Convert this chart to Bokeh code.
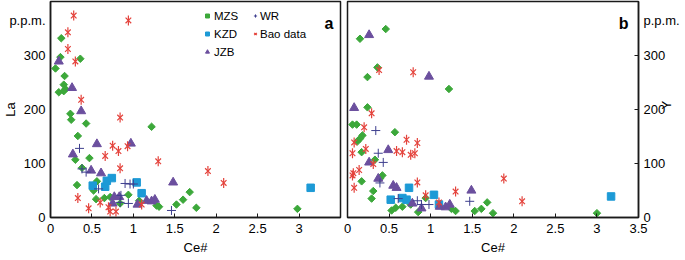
import math
from bokeh.plotting import figure
from bokeh.layouts import row
from bokeh.models import Range1d, FixedTicker, Label, Legend, LegendItem
from bokeh.embed import file_html
from bokeh.resources import INLINE

FONT = "Liberation Sans"

# ---------------- data: panel a (Ce# vs La, p.p.m.) ----------------
a_mzs_ce = [0.13, 0.12, 0.36, 0.06, 0.17, 0.16, 0.18, 0.10, 0.16, 0.24, 0.25, 0.43, 1.22, 0.33, 0.30, 0.47, 0.38,
            0.32, 0.56, 0.52, 0.55, 0.65, 0.72, 0.94, 1.07, 0.84, 1.28, 1.31, 1.52, 1.60, 1.68, 1.76, 2.98]
a_mzs_la = [332, 297, 294, 276, 262, 246, 238, 232, 234, 192, 181, 174, 168, 151, 107, 110, 92,
            60, 67, 50, 34, 36, 38, 42, 31, 26, 22, 20, 24, 33, 47, 18, 16]
a_kzd_ce = [0.51, 0.66, 0.68, 0.74, 1.04, 1.10, 3.14]
a_kzd_la = [59, 57, 68, 73, 65, 45, 55]
a_jzb_ce = [0.10, 0.26, 0.37, 0.56, 0.97, 0.27, 0.49, 0.61, 0.77, 0.83, 0.75, 1.05, 1.16, 1.22, 1.26, 1.48]
a_jzb_la = [289, 240, 197, 136, 137, 117, 87, 82, 38, 38, 26, 24, 31, 30, 33, 65]
a_wr_ce = [0.35, 0.38, 0.43, 0.58, 0.90, 0.96, 1.00, 0.85, 0.84, 0.94, 1.46]
a_wr_la = [128, 90, 84, 53, 63, 62, 62, 41, 28, 26, 13]
a_bao_ce = [0.28, 0.94, 0.21, 0.21, 0.30, 0.37, 0.84, 0.75, 0.93, 0.82, 0.66, 0.84, 0.33, 0.60, 0.70, 0.46,
            0.72, 0.79, 1.10, 1.30, 1.90, 2.09]
a_bao_la = [374, 365, 343, 312, 289, 218, 185, 133, 132, 123, 114, 91, 36, 28, 19, 17,
            11, 11, 24, 104, 86, 64]

# ---------------- data: panel b (Ce# vs Y, p.p.m.) ----------------
b_mzs_ce = [0.46, 0.15, 0.36, 0.24, 1.22, 0.24, 0.06, 0.11, 0.57, 0.18, 0.15, 0.12, 0.17, 0.33, 0.42, 0.39,
            0.17, 0.31, 0.29, 0.94, 0.53, 0.58, 0.66, 0.76, 0.85, 1.25, 1.30, 1.53, 1.61, 1.68, 1.75, 3.00]
b_mzs_y = [349, 331, 278, 260, 238, 204, 172, 172, 158, 152, 146, 141, 121, 107, 78, 72,
           67, 49, 35, 36, 13, 18, 20, 24, 10, 16, 12, 12, 16, 28, 8, 8]
b_kzd_ce = [0.74, 0.52, 0.66, 0.71, 1.04, 1.10, 3.17]
b_kzd_y = [55, 33, 36, 33, 42, 24, 39]
b_jzb_ce = [0.26, 0.98, 0.08, 0.49, 0.26, 0.37, 0.55, 0.59, 0.78, 0.89, 1.11, 1.18, 1.23, 1.49]
b_jzb_y = [338, 261, 203, 125, 102, 72, 59, 55, 26, 17, 20, 19, 24, 50]
b_wr_ce = [0.34, 0.37, 0.43, 0.39, 0.61, 0.84, 0.89, 0.98, 1.47]
b_wr_y = [161, 119, 102, 64, 35, 31, 24, 24, 30]
b_bao_ce = [0.38, 0.79, 0.29, 0.20, 0.08, 0.71, 0.84, 0.22, 0.06, 0.59, 0.66, 0.76, 0.81, 0.31, 0.07, 0.14,
            0.06, 0.08, 0.84, 0.94, 1.10, 1.30, 1.88, 2.10]
b_bao_y = [273, 269, 193, 167, 139, 144, 138, 127, 119, 123, 121, 116, 119, 99, 82, 88,
           78, 55, 65, 41, 28, 48, 72, 30]

x_ticks_a = [0, 0.5, 1, 1.5, 2, 2.5, 3]
x_ticks_b = [0, 0.5, 1, 1.5, 2, 2.5, 3, 3.5]
y_ticks = [0, 100, 200, 300]
unit_pos = 365            # where the "p.p.m." unit sits on the value axis
unit_text = "p.p.m."

GREEN = "#3ca83a"
BLUE = "#1d9ad6"
PURPLE = "#6b4f9e"
NAVY = "#3e3f8e"
RED = "#e4433c"
INK = "#1a1a1a"


def base_axis_style(ax):
    ax.axis_line_color = INK
    ax.axis_line_width = 1.5
    ax.major_tick_line_color = INK
    ax.minor_tick_line_color = None
    ax.major_label_text_font = FONT
    ax.major_label_text_font_size = "13px"
    ax.major_label_text_color = "black"
    ax.axis_label_text_font = FONT
    ax.axis_label_text_font_size = "13px"
    ax.axis_label_text_font_style = "normal"
    ax.axis_label_text_color = "black"


def style(p, xticks, ylabel, y_standoff, y_minor_ticks):
    p.outline_line_color = INK
    p.outline_line_width = 1.5
    p.xgrid.visible = False
    p.ygrid.visible = False
    for ax in p.axis:
        base_axis_style(ax)
    xa = p.xaxis[0]
    xa.ticker = FixedTicker(ticks=xticks)
    xa.major_tick_in = 4
    xa.major_tick_out = 0
    xa.major_label_standoff = 6
    xa.axis_label = "Ce#"
    xa.axis_label_standoff = 4

    ya = p.yaxis[0]
    ya.ticker = FixedTicker(ticks=y_ticks + [unit_pos], minor_ticks=y_minor_ticks)
    ya.major_label_overrides = {unit_pos: unit_text}
    ya.major_tick_in = 0
    ya.major_tick_out = 0
    ya.minor_tick_in = 4
    ya.minor_tick_out = 0
    ya.minor_tick_line_color = INK if y_minor_ticks else None
    ya.major_label_standoff = 5
    ya.axis_label = ylabel
    ya.axis_label_standoff = y_standoff
    return ya


def draw(p, mzs, kzd, jzb, wr, bao):
    r1 = p.scatter(mzs[0], mzs[1], marker="square", angle=math.pi / 4, size=5.3,
                   fill_color=GREEN, line_color=GREEN)
    r2 = p.scatter(kzd[0], kzd[1], marker="square", size=7.5, fill_color=BLUE, line_color=BLUE)
    r3 = p.scatter(jzb[0], jzb[1], marker="triangle", size=9, fill_color=PURPLE, line_color=PURPLE)
    r4 = p.scatter(wr[0], wr[1], marker="cross", size=9, line_color=NAVY, line_width=1)
    r5a = p.scatter(bao[0], bao[1], marker="x", size=8, line_color=RED, line_width=1.2)
    r5b = p.scatter(bao[0], bao[1], marker="dash", angle=math.pi / 2, size=10, line_color=RED,
                    line_width=1.2)
    return r1, r2, r3, r4, [r5a, r5b]


def panel_letter(p, letter, x_off):
    p.add_layout(Label(x=3.5, y=359, x_offset=x_off, text=letter, text_align="right",
                       text_baseline="alphabetic", text_font=FONT, text_font_size="16px",
                       text_font_style="bold", text_color="black"))


# ---------------- panel a ----------------
pa = figure(frame_width=290, frame_height=216, min_border_left=50, min_border_right=3,
            min_border_top=1, min_border_bottom=40,
            x_range=Range1d(0, 3.5), y_range=Range1d(0, 400),
            output_backend="svg", toolbar_location=None)
style(pa, x_ticks_a, "La", -12, [])
ra = draw(pa, (a_mzs_ce, a_mzs_la), (a_kzd_ce, a_kzd_la), (a_jzb_ce, a_jzb_la),
          (a_wr_ce, a_wr_la), (a_bao_ce, a_bao_la))

common_leg = dict(orientation="vertical", glyph_height=15, label_height=15, spacing=3, padding=0,
                  margin=0, label_text_font=FONT, label_text_font_size="11.5px",
                  label_text_color="black", border_line_color=None, background_fill_alpha=0)
leg1 = Legend(items=[LegendItem(label="MZS", renderers=[ra[0]]),
                     LegendItem(label="KZD", renderers=[ra[1]]),
                     LegendItem(label="JZB", renderers=[ra[2]])],
              location=(152, 158), glyph_width=10, label_standoff=2, **common_leg)
leg2 = Legend(items=[LegendItem(label="WR", renderers=[ra[3]]),
                     LegendItem(label="Bao data", renderers=ra[4])],
              location=(201, 176), glyph_width=8, label_standoff=1, **common_leg)
pa.add_layout(leg1)
pa.add_layout(leg2)
panel_letter(pa, "a", -7)

# ---------------- panel b ----------------
pb = figure(frame_width=291, frame_height=216, min_border_left=4, min_border_right=46,
            min_border_top=1, min_border_bottom=40, y_axis_location="right",
            x_range=Range1d(0, 3.5), y_range=Range1d(0, 400),
            output_backend="svg", toolbar_location=None)
yb = style(pb, x_ticks_b, "Y", -16, y_ticks)
if "axis_label_orientation" in yb.properties():
    yb.axis_label_orientation = math.pi / 2
draw(pb, (b_mzs_ce, b_mzs_y), (b_kzd_ce, b_kzd_y), (b_jzb_ce, b_jzb_y),
     (b_wr_ce, b_wr_y), (b_bao_ce, b_bao_y))
panel_letter(pb, "b", -10)

layout = row(pa, pb)
open("out.html", "w").write(file_html(layout, INLINE))
